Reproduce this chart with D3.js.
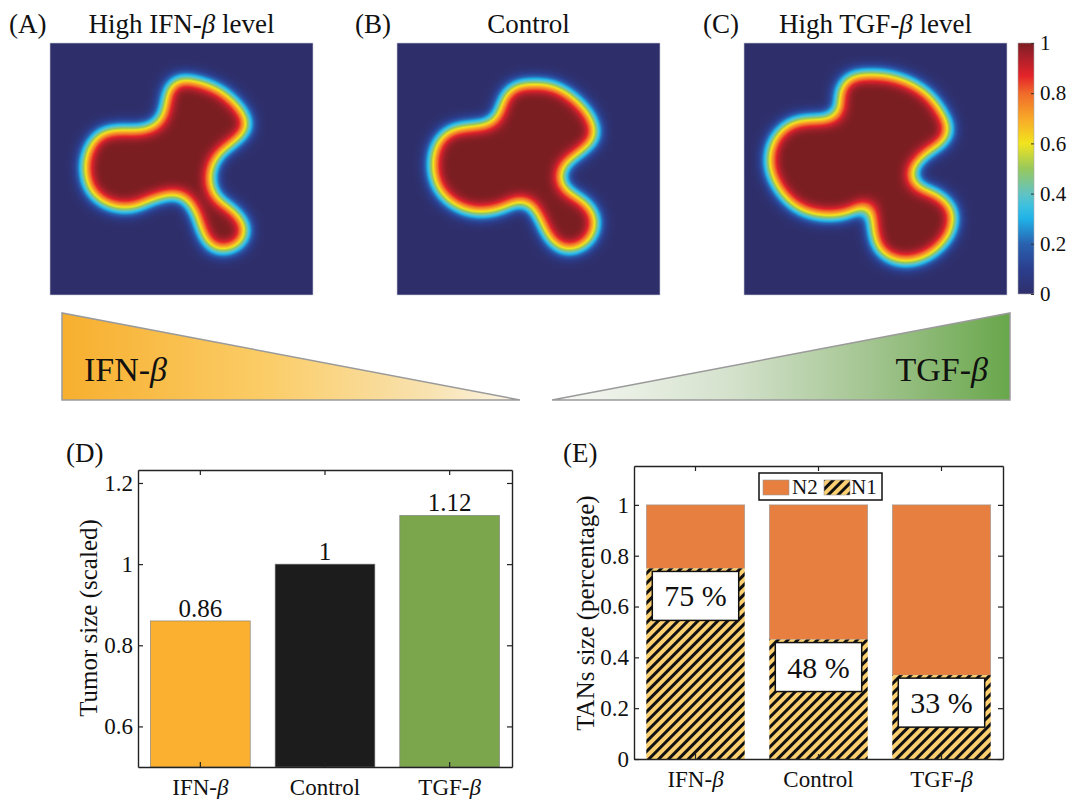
<!DOCTYPE html>
<html>
<head>
<meta charset="utf-8">
<title>Tumor size and TANs</title>
<style>
  body { margin: 0; background: #fff; }
  svg text { font-family: "Liberation Serif", "Times New Roman", serif; fill: #111; }
</style>
</head>
<body>
<script src="https://cdn.jsdelivr.net/npm/d3@7"></script>
<script>
    var width = 1068;
    var height = 799;
    var serif = "'Liberation Serif', 'Times New Roman', serif";

    // ---- data ----
    var groups = ["IFN-β", "Control", "TGF-β"];
    var tumorSize = [0.86, 1, 1.12];
    var tumorLabels = ["0.86", "1", "1.12"];
    var tumorColors = ["#FBB12F", "#1C1C1C", "#7BA64B"];
    var n1Share = [0.75, 0.47, 0.33];
    var n1Labels = ["75 %", "48 %", "33 %"];
    var tumorTicks = [0.6, 0.8, 1, 1.2];
    var tansTicks = [0, 0.2, 0.4, 0.6, 0.8, 1];
    var cbarTicks = [0, 0.2, 0.4, 0.6, 0.8, 1];
    var panelTitles = ["High IFN-β level", "Control", "High TGF-β level"];
    var panelLetters = ["(A)", "(B)", "(C)"];

    // tumour outlines (domain coords 0..1)
    var outlineA = [[0.521,0.155],[0.646,0.198],[0.734,0.294],[0.741,0.337],[0.696,0.385],[0.635,0.437],
        [0.601,0.516],[0.620,0.611],[0.696,0.675],[0.734,0.730],[0.722,0.782],[0.673,0.810],[0.620,0.802],
        [0.589,0.754],[0.563,0.675],[0.525,0.611],[0.483,0.591],[0.380,0.615],[0.316,0.643],[0.228,0.635],
        [0.163,0.583],[0.141,0.492],[0.160,0.413],[0.202,0.365],[0.266,0.353],[0.354,0.353],[0.418,0.325],
        [0.445,0.266],[0.456,0.198],[0.483,0.159]];
    var outlineB = [[0.491,0.173],[0.592,0.180],[0.681,0.239],[0.738,0.319],[0.744,0.372],[0.693,0.425],
        [0.630,0.477],[0.611,0.531],[0.630,0.583],[0.706,0.636],[0.744,0.689],[0.738,0.755],[0.693,0.802],
        [0.630,0.808],[0.586,0.769],[0.548,0.689],[0.516,0.636],[0.472,0.616],[0.390,0.650],[0.314,0.663],
        [0.226,0.636],[0.163,0.570],[0.144,0.477],[0.163,0.398],[0.213,0.352],[0.289,0.339],[0.365,0.325],
        [0.397,0.279],[0.416,0.219],[0.447,0.184]];
    var outlineC = [[0.403,0.147],[0.479,0.134],[0.581,0.147],[0.682,0.200],[0.745,0.279],[0.771,0.345],
        [0.752,0.385],[0.695,0.425],[0.644,0.477],[0.625,0.531],[0.657,0.577],[0.733,0.610],[0.783,0.663],
        [0.783,0.729],[0.745,0.795],[0.669,0.848],[0.581,0.854],[0.517,0.808],[0.498,0.729],[0.489,0.650],
        [0.467,0.630],[0.403,0.663],[0.314,0.677],[0.213,0.650],[0.137,0.570],[0.105,0.477],[0.124,0.385],
        [0.187,0.325],[0.276,0.312],[0.340,0.306],[0.372,0.266],[0.372,0.200]];
    var outlines = [outlineA, outlineB, outlineC];

    // colormap of the maps
    var cmapStops = [0, 0.1, 0.2, 0.3, 0.35, 0.4, 0.5, 0.6, 0.7, 0.8, 0.87, 0.95, 1];
    var cmapColors = ["#2F2F6B", "#2B3E8E", "#2962B0", "#20B2E8", "#3CC0E0", "#62C3C3", "#98C85C",
        "#F2E41E", "#F8A828", "#F06A2A", "#E4232A", "#A5202A", "#7B1E22"];

    var svg = d3.select("body").append("svg")
        .attr("width", width)
        .attr("height", height)
        .attr("font-family", serif);
    svg.append("rect").attr("width", width).attr("height", height).attr("fill", "#fff");
    var defs = svg.append("defs");

    var cmap = d3.scaleLinear().domain(cmapStops).range(cmapColors).interpolate(d3.interpolateRgb);

    // write "β" in italics
    function greek(sel, str) {
        sel.text(null);
        str.split(/(β)/).forEach(function (s) {
            if (!s) return;
            var t = sel.append("tspan").text(s);
            if (s === "β") t.attr("font-style", "italic");
        });
    }

    // ---- (A)-(C) maps ----
    var hmW = 263, hmH = 252, hmX = [50, 397, 744], hmY = 43;

    // blur the tumour mask, then look its value up in the colormap
    var samples = d3.range(101).map(function (i) { return d3.rgb(cmap(i / 100)); });
    var f = defs.append("filter").attr("id", "field")
        .attr("filterUnits", "userSpaceOnUse")
        .attr("x", 0).attr("y", 0).attr("width", hmW).attr("height", hmH)
        .attr("color-interpolation-filters", "sRGB");
    f.append("feGaussianBlur").attr("in", "SourceGraphic").attr("stdDeviation", 7.5);
    f.append("feColorMatrix").attr("type", "matrix")
        .attr("values", "0 0 0 1 0  0 0 0 1 0  0 0 0 1 0  0 0 0 0 1");
    var ct = f.append("feComponentTransfer");
    ct.append("feFuncR").attr("type", "table").attr("tableValues", samples.map(function (c) { return (c.r / 255).toFixed(3); }).join(" "));
    ct.append("feFuncG").attr("type", "table").attr("tableValues", samples.map(function (c) { return (c.g / 255).toFixed(3); }).join(" "));
    ct.append("feFuncB").attr("type", "table").attr("tableValues", samples.map(function (c) { return (c.b / 255).toFixed(3); }).join(" "));

    var mx = d3.scaleLinear().domain([0, 1]).range([0, hmW]);
    var my = d3.scaleLinear().domain([0, 1]).range([0, hmH]);
    var shapeLine = d3.line()
        .x(function (d) { return mx(d[0]); })
        .y(function (d) { return my(d[1]); })
        .curve(d3.curveCatmullRomClosed.alpha(0.5));

    outlines.forEach(function (pts, i) {
        var g = svg.append("g").attr("transform", "translate(" + hmX[i] + "," + hmY + ")");
        g.append("g").attr("filter", "url(#field)")
            .append("path")
            .attr("d", shapeLine(pts))
            .attr("fill", "#fff")
            .attr("stroke", "#fff").attr("stroke-width", 8).attr("stroke-linejoin", "round");
        g.append("rect").attr("width", hmW).attr("height", hmH)
            .attr("fill", "none").attr("stroke", "#c9cbd6").attr("stroke-width", 0.6);

        svg.append("text").attr("x", hmX[i] + hmW / 2).attr("y", 33)
            .attr("text-anchor", "middle").attr("font-size", 27)
            .call(greek, panelTitles[i]);
    });
    svg.selectAll(".letter").data(panelLetters).enter().append("text")
        .attr("x", function (d, i) { return [9, 355, 703][i]; })
        .attr("y", 33)
        .attr("font-size", 27)
        .text(function (d) { return d; });

    // colorbar
    var cbX = 1018, cbW = 16;
    var cbY = d3.scaleLinear().domain([0, 1]).range([294, 43]);
    var cg = defs.append("linearGradient").attr("id", "cbar")
        .attr("x1", 0).attr("y1", 1).attr("x2", 0).attr("y2", 0);
    cmapStops.forEach(function (s, i) {
        cg.append("stop").attr("offset", s).attr("stop-color", cmapColors[i]);
    });
    svg.append("rect").attr("x", cbX).attr("y", cbY(1)).attr("width", cbW)
        .attr("height", cbY(0) - cbY(1)).attr("fill", "url(#cbar)")
        .attr("stroke", "#aaa").attr("stroke-width", 0.6);
    var cax = svg.append("g").attr("transform", "translate(" + (cbX + cbW) + ",0)")
        .call(d3.axisRight(cbY).tickValues(cbarTicks).tickSize(-3).tickPadding(6)
            .tickFormat(function (d) { return String(d); }));
    cax.select(".domain").remove();
    cax.attr("font-family", serif).attr("font-size", 21);
    cax.selectAll("line").attr("stroke", "#333");

    // ---- triangles ----
    var lg = defs.append("linearGradient").attr("id", "ifnGrad");
    [[0, "#F7AF2E"], [0.45, "#FBCD68"], [0.8, "#F8E2B0"], [1, "#FCF5E6"]].forEach(function (s) {
        lg.append("stop").attr("offset", s[0]).attr("stop-color", s[1]);
    });
    var rg = defs.append("linearGradient").attr("id", "tgfGrad");
    [[0, "#F8F9F6"], [0.4, "#D3E1CB"], [0.7, "#A2C48F"], [1, "#68A74B"]].forEach(function (s) {
        rg.append("stop").attr("offset", s[0]).attr("stop-color", s[1]);
    });
    svg.append("polygon").attr("points", "62,313 62,400 520,400")
        .attr("fill", "url(#ifnGrad)").attr("stroke", "#9a9a9a").attr("stroke-width", 1.5);
    svg.append("polygon").attr("points", "552,400 1010,313 1010,400")
        .attr("fill", "url(#tgfGrad)").attr("stroke", "#9a9a9a").attr("stroke-width", 1.5);
    svg.append("text").attr("x", 84).attr("y", 381).attr("font-size", 34).call(greek, "IFN-β");
    svg.append("text").attr("x", 988).attr("y", 381).attr("font-size", 34)
        .attr("text-anchor", "end").call(greek, "TGF-β");

    // ---- shared axis box ----
    function boxAxes(x, y, yTicks, labelSize) {
        var r = x.range(), d = y.range();
        var bottom = svg.append("g").attr("transform", "translate(0," + d[0] + ")")
            .call(d3.axisBottom(x).tickSize(-5).tickSizeOuter(0).tickPadding(12));
        var top = svg.append("g").attr("transform", "translate(0," + d[1] + ")")
            .call(d3.axisTop(x).tickSize(-5).tickSizeOuter(0).tickFormat(function () { return ""; }));
        var left = svg.append("g").attr("transform", "translate(" + r[0] + ",0)")
            .call(d3.axisLeft(y).tickValues(yTicks).tickSize(-5).tickSizeOuter(0).tickPadding(5)
                .tickFormat(function (v) { return String(v); }));
        var right = svg.append("g").attr("transform", "translate(" + r[1] + ",0)")
            .call(d3.axisRight(y).tickValues(yTicks).tickSize(-5).tickSizeOuter(0)
                .tickFormat(function () { return ""; }));
        [bottom, top, left, right].forEach(function (a) {
            a.attr("font-family", serif).attr("font-size", labelSize);
            a.select(".domain").attr("stroke", "#222").attr("stroke-width", 1.4);
            a.selectAll(".tick line").attr("stroke", "#222").attr("stroke-width", 1.2);
        });
        bottom.selectAll(".tick text").each(function (v) { greek(d3.select(this), v); });
        return { bottom: bottom, left: left };
    }

    // ---- (D) tumour size ----
    var xD = d3.scaleBand().domain(groups).range([138, 512]).paddingInner(0.2).paddingOuter(0.1);
    var yD = d3.scaleLinear().domain([0.5, 1.232]).range([767, 470]);

    svg.selectAll(".barD").data(tumorSize).enter().append("rect")
        .attr("x", function (d, i) { return xD(groups[i]); })
        .attr("y", function (d) { return yD(d); })
        .attr("width", xD.bandwidth())
        .attr("height", function (d) { return yD(0.5) - yD(d); })
        .attr("fill", function (d, i) { return tumorColors[i]; })
        .attr("stroke", "#777").attr("stroke-width", 0.6);
    svg.selectAll(".labD").data(tumorSize).enter().append("text")
        .attr("x", function (d, i) { return xD(groups[i]) + xD.bandwidth() / 2; })
        .attr("y", function (d) { return yD(d) - 4; })
        .attr("text-anchor", "middle").attr("font-size", 25)
        .text(function (d, i) { return tumorLabels[i]; });
    boxAxes(xD, yD, tumorTicks, 23);
    svg.append("text").attr("transform", "translate(88,618) rotate(-90)")
        .attr("text-anchor", "middle").attr("dy", "0.35em").attr("font-size", 25)
        .text("Tumor size (scaled)");
    svg.append("text").attr("x", 66).attr("y", 462).attr("font-size", 27).text("(D)");

    // ---- (E) TANs share ----
    var pat = defs.append("pattern").attr("id", "hatch")
        .attr("patternUnits", "userSpaceOnUse").attr("width", 7).attr("height", 7)
        .attr("patternTransform", "rotate(45)");
    pat.append("rect").attr("width", 7).attr("height", 7).attr("fill", "#FCD071");
    pat.append("rect").attr("width", 3).attr("height", 7).attr("fill", "#111");

    var xE = d3.scaleBand().domain(groups).range([634, 1003]).paddingInner(0.2).paddingOuter(0.1);
    var yE = d3.scaleLinear().domain([0, 1.153]).range([759, 466]);
    var n2Color = "#E67F3F";

    svg.selectAll(".n2").data(n1Share).enter().append("rect")
        .attr("x", function (d, i) { return xE(groups[i]); })
        .attr("y", yE(1))
        .attr("width", xE.bandwidth())
        .attr("height", function (d) { return yE(d) - yE(1); })
        .attr("fill", n2Color).attr("stroke", "#999").attr("stroke-width", 0.6);
    svg.selectAll(".n1").data(n1Share).enter().append("rect")
        .attr("x", function (d, i) { return xE(groups[i]); })
        .attr("y", function (d) { return yE(d); })
        .attr("width", xE.bandwidth())
        .attr("height", function (d) { return yE(0) - yE(d); })
        .attr("fill", "url(#hatch)");
    svg.selectAll(".boxE").data(n1Share).enter().append("rect")
        .attr("x", function (d, i) { return xE(groups[i]) + 6; })
        .attr("y", function (d) { return yE(d) + 3; })
        .attr("width", xE.bandwidth() - 12)
        .attr("height", 49)
        .attr("fill", "#fff").attr("stroke", "#111").attr("stroke-width", 1.5);
    svg.selectAll(".labE").data(n1Share).enter().append("text")
        .attr("x", function (d, i) { return xE(groups[i]) + xE.bandwidth() / 2; })
        .attr("y", function (d) { return yE(d) + 3 + 24.5; })
        .attr("dy", "0.35em")
        .attr("text-anchor", "middle").attr("font-size", 30)
        .text(function (d, i) { return n1Labels[i]; });
    boxAxes(xE, yE, tansTicks, 23);
    svg.append("text").attr("transform", "translate(585,613) rotate(-90)")
        .attr("text-anchor", "middle").attr("dy", "0.35em").attr("font-size", 25)
        .text("TANs size (percentage)");
    svg.append("text").attr("x", 563).attr("y", 462).attr("font-size", 27).text("(E)");

    // legend
    var leg = svg.append("g").attr("transform", "translate(759,473)");
    leg.append("rect").attr("width", 123).attr("height", 27)
        .attr("fill", "#fff").attr("stroke", "#111").attr("stroke-width", 1.5);
    leg.append("rect").attr("x", 4).attr("y", 7).attr("width", 26).attr("height", 15)
        .attr("fill", n2Color).attr("stroke", "#999").attr("stroke-width", 0.6);
    leg.append("text").attr("x", 33).attr("y", 21).attr("font-size", 21).text("N2");
    leg.append("rect").attr("x", 65).attr("y", 7).attr("width", 26).attr("height", 15)
        .attr("fill", "url(#hatch)").attr("stroke", "#999").attr("stroke-width", 0.6);
    leg.append("text").attr("x", 92).attr("y", 21).attr("font-size", 21).text("N1");
</script>
</body>
</html>
